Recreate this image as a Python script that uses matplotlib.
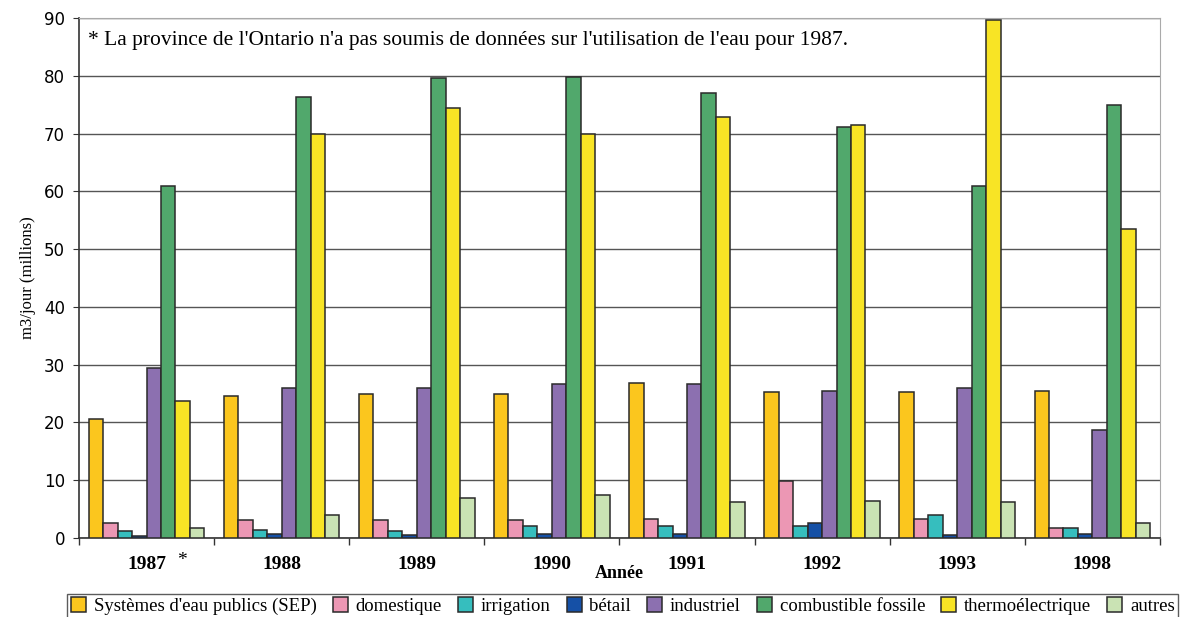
import numpy as np
import matplotlib
matplotlib.use("Agg")
import matplotlib.pyplot as plt
from matplotlib.ticker import FixedLocator, NullFormatter

years = ["1987", "1988", "1989", "1990", "1991", "1992", "1993", "1998"]
series_names = ["Systèmes d'eau publics (SEP)", "domestique", "irrigation", "bétail",
                "industriel", "combustible fossile", "thermoélectrique", "autres"]

sep = [20.6, 24.5, 24.9, 25.0, 26.8, 25.3, 25.3, 25.4]
domestique = [2.6, 3.1, 3.1, 3.1, 3.3, 9.9, 3.3, 1.8]
irrigation = [1.2, 1.4, 1.2, 2.0, 2.0, 2.0, 3.9, 1.8]
betail = [0.3, 0.7, 0.5, 0.7, 0.7, 2.6, 0.5, 0.7]
industriel = [29.4, 25.9, 26.0, 26.6, 26.6, 25.4, 26.0, 18.7]
combustible = [61.0, 76.3, 79.6, 79.8, 77.0, 71.2, 61.0, 75.0]
thermo = [23.8, 70.0, 74.5, 70.0, 72.9, 71.4, 89.7, 53.5]
autres = [1.8, 3.9, 7.0, 7.5, 6.3, 6.4, 6.3, 2.6]

colors = ["#FBC61E", "#EC97B4", "#36BEBE", "#1550A6",
          "#8C70B0", "#51A86C", "#F8E425", "#CAE3B4"]

all_series = [sep, domestique, irrigation, betail, industriel, combustible, thermo, autres]

serif = ["Liberation Serif", "DejaVu Serif"]

fig = plt.figure(figsize=(11.82, 6.17), dpi=100)
ax = fig.add_axes([0.0668, 0.128, 0.9145, 0.8428])

x = np.arange(len(years))
width = 0.107
for i, (vals, name, col) in enumerate(zip(all_series, series_names, colors)):
    offs = (i - 3.5) * width
    ax.bar(x + offs, vals, width, color=col, edgecolor="#2a2a2a",
           linewidth=1.1, label=name, zorder=3)

ax.set_xlim(-0.5, len(years) - 0.5)
ax.set_ylim(0, 90)
ax.set_yticks(np.arange(0, 91, 10))
ax.yaxis.grid(True, color="#555555", linewidth=1.0, zorder=0)
ax.set_axisbelow(True)

# ticks between groups, labels at centers
ax.set_xticks(x)
ax.set_xticklabels(years, fontfamily=serif, fontweight="bold", fontsize=14)
ax.xaxis.set_minor_locator(FixedLocator(np.arange(-0.5, len(years), 1.0)))
ax.xaxis.set_minor_formatter(NullFormatter())
ax.tick_params(axis="x", which="major", length=0, pad=13)
ax.tick_params(axis="x", which="minor", length=5, width=1, color="#333333")
ax.tick_params(axis="y", length=4, color="#333333", labelsize=12, pad=6)

for side in ["top", "right"]:
    ax.spines[side].set_color("#aaaaaa")
ax.spines["left"].set_color("#333333")
ax.spines["bottom"].set_color("#333333")
ax.spines["left"].set_linewidth(1.2)
ax.spines["bottom"].set_linewidth(1.2)

ax.set_xlabel("Année", fontfamily=serif, fontweight="bold", fontsize=13, labelpad=-6)
ax.set_ylabel("m3/jour (millions)", fontfamily=serif, fontsize=12, labelpad=6)

ax.text(0.008, 0.975, "* La province de l'Ontario n'a pas soumis de données sur l'utilisation de l'eau pour 1987.",
        transform=ax.transAxes, ha="left", va="top", fontfamily=serif, fontsize=15.5)
ax.annotate("*", xy=(0, 0), xycoords=("data", "axes fraction"), xytext=(0.26, -16),
            textcoords=("data", "offset points"), ha="center", va="center",
            fontfamily=serif, fontsize=14)

leg = fig.legend(loc="lower left", bbox_to_anchor=(0.057, -0.003, 0.94, 0.04),
                 mode="expand", ncol=8,
                 prop={"family": serif, "size": 13.5}, frameon=True, fancybox=False,
                 handlelength=0.8, handleheight=0.8, handletextpad=0.4,
                 columnspacing=0.6, borderpad=0.2, borderaxespad=0.0)
leg.get_frame().set_edgecolor("#333333")
leg.get_frame().set_linewidth(1.0)

fig.savefig("out.png", dpi=100)
